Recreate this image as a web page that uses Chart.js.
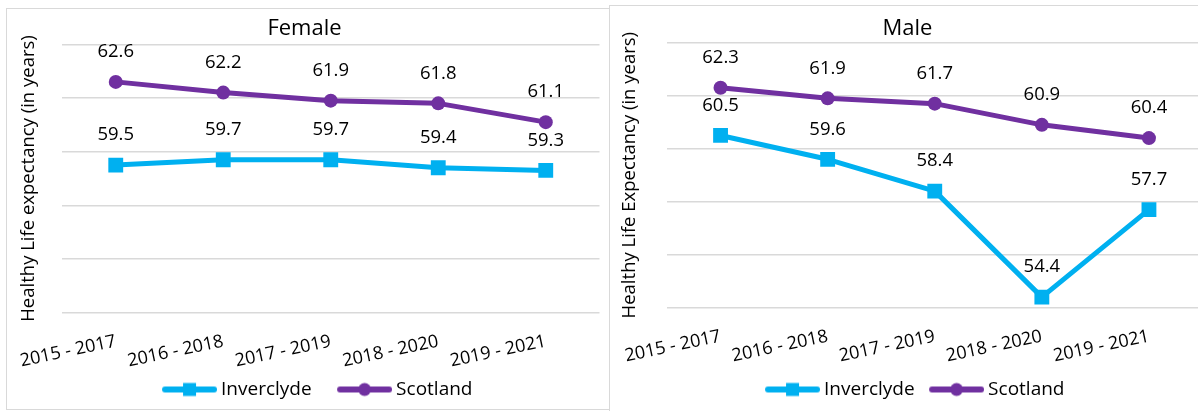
<!DOCTYPE html>
<html><head><meta charset="utf-8">
<script src="https://cdn.jsdelivr.net/npm/chart.js@4"></script>
<style>
html,body{margin:0;padding:0;background:#fff;overflow:hidden;width:1198px;height:411px;}
.box{position:absolute;box-sizing:border-box;border:1px solid #d9d9d9;background:#fff;overflow:hidden;}
.box canvas{position:absolute;left:0;top:0;}
</style></head><body>
<div class="box" style="left:6px;top:8px;width:605px;height:402px;"><canvas id="female" width="603" height="400"></canvas></div>
<div class="box" style="left:609px;top:5px;width:620px;height:420px;"><canvas id="male" width="603" height="403"></canvas></div>
<script>
const categories = ['2015 - 2017', '2016 - 2018', '2017 - 2019', '2018 - 2020', '2019 - 2021'];
const seriesNames = ['Inverclyde', 'Scotland'];
const femaleInverclyde = [59.5, 59.7, 59.7, 59.4, 59.3];
const femaleScotland = [62.6, 62.2, 61.9, 61.8, 61.1];
const maleInverclyde = [60.5, 59.6, 58.4, 54.4, 57.7];
const maleScotland = [62.3, 61.9, 61.7, 60.9, 60.4];
const yMin = 54, yMax = 64, yStep = 2;

const FONT = "'Open Sans', sans-serif";
const C_INV = '#00B0F0', C_SCO = '#7030A0';
const LEGEND_FONT = 19;

function legendIcon(color, style, W) {
  const half = W / 2 + LEGEND_FONT / 2 - 4;
  const wi = Math.round(half * 2), h = 18;
  const c = document.createElement('canvas'); c.width = wi; c.height = h;
  const g = c.getContext('2d');
  const x0 = wi - 55 + 3, x1 = wi - 3, cy = h / 2, mx = (x0 + x1) / 2;
  g.strokeStyle = color; g.lineWidth = 6; g.lineCap = 'round';
  g.beginPath(); g.moveTo(x0, cy); g.lineTo(x1, cy); g.stroke();
  g.fillStyle = color;
  if (style === 'rect') g.fillRect(mx - 6.5, cy - 6.5, 13, 13);
  else { g.beginPath(); g.arc(mx, cy, 6.5, 0, Math.PI * 2); g.fill(); }
  return c;
}

const dataLabels = {
  id: 'dataLabels',
  afterDatasetsDraw(chart) {
    const ctx = chart.ctx;
    ctx.save();
    ctx.font = '18.5px ' + FONT;
    ctx.fillStyle = '#000';
    ctx.textAlign = 'center';
    ctx.textBaseline = 'middle';
    chart.data.datasets.forEach((ds, i) => {
      chart.getDatasetMeta(i).data.forEach((pt, j) => {
        ctx.fillText(ds.data[j].toFixed(1), pt.x, pt.y - 30);
      });
    });
    ctx.restore();
  }
};

function makeChart(id, o) {
  const icons = [legendIcon(C_INV, 'rect', o.legendW), legendIcon(C_SCO, 'circle', o.legendW)];
  return new Chart(document.getElementById(id), {
    type: 'line',
    data: {
      labels: categories,
      datasets: [
        { label: seriesNames[0], data: o.inv, borderColor: C_INV, backgroundColor: C_INV,
          borderWidth: 5, pointStyle: 'rect', pointRadius: 10.5, pointBorderWidth: 0,
          pointBackgroundColor: C_INV, borderJoinStyle: 'round', tension: 0 },
        { label: seriesNames[1], data: o.sco, borderColor: C_SCO, backgroundColor: C_SCO,
          borderWidth: 5, pointStyle: 'circle', pointRadius: 7, pointBorderWidth: 0,
          pointBackgroundColor: C_SCO, borderJoinStyle: 'round', tension: 0 }
      ]
    },
    options: {
      responsive: false, animation: false, devicePixelRatio: 1,
      layout: { padding: { left: 0, right: o.padRight, top: 0, bottom: 0 } },
      plugins: {
        title: { display: true, text: o.title, color: '#000',
          font: { family: FONT, size: 22, weight: 'normal' },
          padding: { top: o.titlePadTop, bottom: o.titlePadBottom } },
        legend: { display: true, position: 'bottom',
          labels: { usePointStyle: true, pointStyleWidth: o.legendW, padding: o.legendPad,
            color: '#000', font: { family: FONT, size: LEGEND_FONT },
            generateLabels(chart) {
              const items = Chart.defaults.plugins.legend.labels.generateLabels(chart);
              items.forEach((it, i) => { it.pointStyle = icons[i]; });
              return items;
            } } },
        tooltip: { enabled: false }
      },
      scales: {
        x: {
          offset: true,
          grid: { display: false, drawTicks: false, offset: true }, border: { display: false },
          ticks: { color: '#000', font: { family: FONT, size: 18 }, minRotation: 12, maxRotation: 12,
            autoSkip: false, padding: 18 },
          afterFit(s) { s.height = o.xHeight; s.paddingLeft = 0; s.paddingRight = 0; }
        },
        y: {
          min: yMin, max: yMax,
          ticks: { display: false, stepSize: yStep },
          grid: { color: '#d9d9d9', lineWidth: 1.5, drawTicks: false },
          border: { display: false },
          title: { display: true, text: o.yTitle, color: '#000',
            font: { family: FONT, size: 18.5 }, padding: { top: o.yTitlePad, bottom: 0 } },
          afterFit(s) { s.width = o.yWidth; s.paddingTop = 0; s.paddingBottom = 0; }
        }
      }
    },
    plugins: [dataLabels]
  });
}

makeChart('female', {
  title: 'Female', yTitle: 'Healthy Life expectancy (in years)',
  inv: femaleInverclyde, sco: femaleScotland,
  yWidth: 55, yTitlePad: 11, titlePadTop: 6.3, titlePadBottom: 2.6,
  xHeight: 67.3, padRight: 8, legendPad: 0, legendW: 75
});
makeChart('male', {
  title: 'Male', yTitle: 'Healthy Life Expectancy (in years)',
  inv: maleInverclyde, sco: maleScotland,
  yWidth: 57, yTitlePad: 9, titlePadTop: 9.1, titlePadBottom: 1.2,
  xHeight: 72.3, padRight: 8, legendPad: 0, legendW: 64
});
</script>
</body></html>
